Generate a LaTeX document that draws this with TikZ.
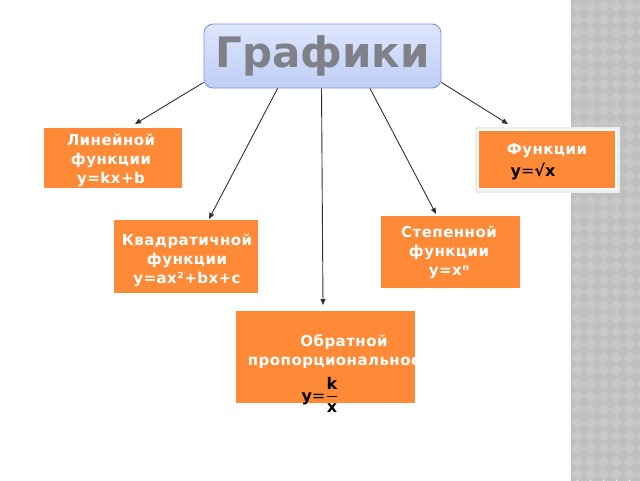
\documentclass[tikz,border=0pt]{standalone}
\usepackage{fontspec}
\setmainfont{DejaVu Sans}
\newfontfamily\boxfont[LetterSpace=3]{DejaVu Sans}
\usetikzlibrary{calc,arrows.meta}
\definecolor{org}{RGB}{254,137,54}
\definecolor{ttltext}{RGB}{128,128,136}
\definecolor{ttlborder}{RGB}{122,152,226}
\definecolor{ttltop}{RGB}{222,230,252}
\definecolor{ttlbot}{RGB}{190,206,246}
\definecolor{stripA}{RGB}{200,200,200}
\definecolor{stripB}{RGB}{191,191,191}
\definecolor{arrcol}{RGB}{50,50,50}
\begin{document}
\begin{tikzpicture}[x=1pt,y=-1pt,
  obox/.style={fill=org, inner sep=0pt, outer sep=0pt},
  btxt/.style={text=white, align=center, inner sep=0pt,
    font=\boxfont\bfseries\fontsize{15}{19}\selectfont},
  ftxt/.style={text=black, inner sep=0pt, font=\bfseries\fontsize{16}{18}\selectfont},
  ttl/.style={rounded corners=9pt, draw=ttlborder, line width=0.9pt,
    top color=ttltop, bottom color=ttlbot, text=ttltext, inner sep=0pt,
    minimum width=237pt, minimum height=64pt,
    font=\bfseries\fontsize{42}{42}\selectfont},
  arr/.style={draw=arrcol, line width=0.9pt, -{Triangle[length=6pt,width=5pt]}}]
\useasboundingbox (0,0) rectangle (640,480);
\fill[white] (0,0) rectangle (640,480);
% decorative strip
\begin{scope}
  \clip (571,0) rectangle (640,480);
  \fill[stripA] (571,0) rectangle (640,480);
  \foreach \i in {0,...,6} {
    \foreach \j in {0,...,37} {
      \fill[stripB] (571+\i*13,\j*13) +(6.5,0) -- +(0,6.5) -- +(-6.5,0) -- +(0,-6.5) -- cycle;
    }
  }
\end{scope}
% title
\node[ttl] (t) at (322.5,56) {Графики};
% linear
\node[obox, minimum width=138pt, minimum height=60pt] (lin) at (113,158) {};
\node[btxt] (lint) at (111,160) {Линейной\\функции\\y=kx+b};
% sqrt box
\fill[black!7] (474.5,126.5) rectangle (619.5,192.5);
\node[obox, draw=white, line width=2pt, minimum width=138pt, minimum height=59pt] (fun) at (547,159.5) {};
\node[btxt] (funt) at (547,151) {Функции};
\node[ftxt] (funf) at (533,172) {y{\mdseries=}√x};
% quadratic
\node[obox, minimum width=144pt, minimum height=73pt] (quad) at (186,256.5) {};
\node[btxt] (quadt) at (187,260) {Квадратичной\\функции\\y=ax²+bx+c};
% power
\node[obox, minimum width=139pt, minimum height=72pt] (pow) at (450.5,252) {};
\node[btxt] (powt) at (449,252) {Степенной\\функции\\y=xⁿ};
% inverse
\node[obox, minimum width=179pt, minimum height=92pt] (inv) at (325.5,357) {};
\begin{scope}
  \clip (inv.north west) rectangle (inv.south east);
  \node[btxt] (invt) at (344,351.5) {Обратной\\пропорциональности};
\end{scope}
\node[ftxt] (invf) at (320,395) {y{\mdseries=}$\displaystyle\frac{\mbox{\bfseries k}}{\mbox{\bfseries x}}$};
% arrows
\draw[arr] ($(t.south west)+(0,-6)$) -- ($(lin.north west)+(91,-4)$);
\draw[arr] ($(t.south west)+(74,0)$) -- ($(quad.north west)+(95,-1)$);
\draw[arr] ($(t.south)+(-1,0)$) -- ($(inv.north)+(-2.5,-6)$);
\draw[arr] ($(t.south)+(47.5,0)$) -- ($(pow.north west)+(55,-2)$);
\draw[arr] ($(t.south east)+(0,-6)$) -- ($(fun.north west)+(30,-6)$);
\end{tikzpicture}
\end{document}
